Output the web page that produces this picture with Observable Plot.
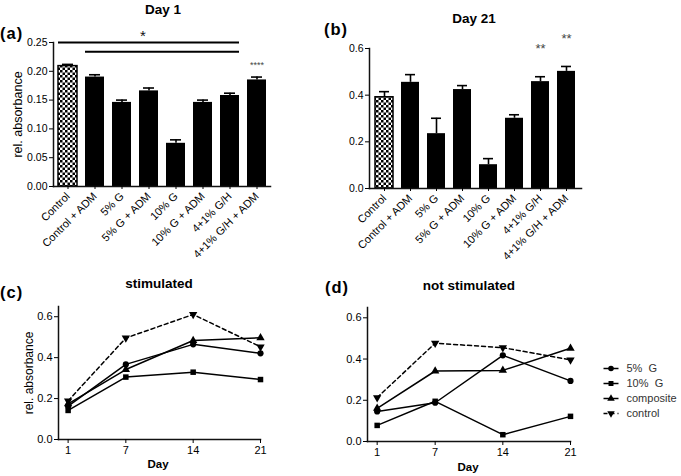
<!DOCTYPE html>
<html><head><meta charset="utf-8">
<script src="https://cdn.jsdelivr.net/npm/d3@7"></script>
<script src="https://cdn.jsdelivr.net/npm/@observablehq/plot@0.6"></script>
<style>
body{margin:0;background:#fff;}
#wrap{position:relative;width:681px;height:476px;font-family:"Liberation Sans",Arial,sans-serif;color:#000;overflow:hidden;background:#fff;}
.abs{position:absolute;white-space:pre;line-height:1;}
.title{font-weight:bold;font-size:13.5px;transform:translate(-50%,-50%);}
.tag{font-weight:bold;font-size:16.5px;letter-spacing:1px;transform:translateY(-50%);}
.xl{font-weight:bold;font-size:11.5px;transform:translate(-50%,-50%);}
</style></head><body><div id="wrap"></div>
<script>
// ---------- data ----------
const categories = ["Control","Control + ADM","5% G","5% G + ADM","10% G","10% G + ADM","4+1% G/H","4+1% G/H + ADM"];
const day1 = [0.209, 0.190, 0.146, 0.166, 0.075, 0.146, 0.158, 0.185];
const day1Err = [0.003, 0.004, 0.004, 0.005, 0.006, 0.004, 0.004, 0.005];
const day21 = [0.391, 0.455, 0.235, 0.424, 0.102, 0.301, 0.458, 0.502];
const day21Err = [0.024, 0.033, 0.066, 0.017, 0.026, 0.015, 0.021, 0.021];
const yTicksA = [0, 0.05, 0.10, 0.15, 0.20, 0.25];
const yTicksB = [0, 0.2, 0.4, 0.6];
const sigLinesA = [
  {from:"Control", to:"4+1% G/H", y:0.25},
  {from:"Control + ADM", to:"4+1% G/H", y:0.234}
];
const sigStarA = [{cat:"5% G + ADM", y:0.25, label:"*"}];
const sigBarA = [{cat:"4+1% G/H + ADM", label:"****"}];
const sigBarB = [{cat:"4+1% G/H", label:"**"}, {cat:"4+1% G/H + ADM", label:"**"}];

const days = [1, 7, 14, 21];
const seriesNames = ["5% G", "10% G", "composite", "control"];
const legendLabels = ["5%\u00a0 G", "10%\u00a0 G", "composite", "control"];
const stim5G   = [0.163, 0.367, 0.465, 0.421];
const stim10G  = [0.142, 0.305, 0.329, 0.293];
const stimComp = [0.174, 0.342, 0.484, 0.497];
const stimCtrl = [0.189, 0.496, 0.611, 0.453];
const not5G    = [0.146, 0.188, 0.418, 0.294];
const not10G   = [0.078, 0.195, 0.033, 0.122];
const notComp  = [0.161, 0.342, 0.345, 0.452];
const notCtrl  = [0.213, 0.477, 0.455, 0.396];
const yTicksLine = [0, 0.2, 0.4, 0.6];

// ---------- helpers ----------
const FONT = '"Liberation Sans",Arial,sans-serif';
const wrap = document.getElementById("wrap");
function place(el, left, top) {
  el.style.position = "absolute"; el.style.left = left + "px"; el.style.top = top + "px";
  wrap.appendChild(el); return el;
}
function label(text, cls, left, top) {
  const d = document.createElement("div"); d.className = "abs " + cls; d.textContent = text;
  d.style.left = left + "px"; d.style.top = top + "px"; wrap.appendChild(d);
}
function addChecker(svg, id) {
  const defs = d3.select(svg).insert("defs", ":first-child");
  const p = defs.append("pattern").attr("id", id).attr("width", 5).attr("height", 5).attr("patternUnits", "userSpaceOnUse");
  p.append("rect").attr("width", 5).attr("height", 5).attr("fill", "#fff");
  p.append("rect").attr("width", 2.5).attr("height", 2.5).attr("fill", "#000");
  p.append("rect").attr("x", 2.5).attr("y", 2.5).attr("width", 2.5).attr("height", 2.5).attr("fill", "#000");
}
const triangleDown = {
  draw(context, size) {
    const s3 = Math.sqrt(3);
    const y = -Math.sqrt(size / (s3 * 3));
    context.moveTo(0, -y * 2);
    context.lineTo(-s3 * y, y);
    context.lineTo(s3 * y, y);
    context.closePath();
  }
};
const symbolOf = {"5% G": "circle", "10% G": "square", "composite": "triangle", "control": triangleDown};
const dashOf = {"control": "4,3"};

function barPanel({values, errs, yDomain, yTicks, fmt, ylabel, patternId, sigLines, sigStars, sigBars, sigBarsDy, sigBarsSize, w, h, ml, mr, mt, mb, fontSize}) {
  const rows = categories.map((c, i) => ({cat: c, v: values[i], e: errs[i]}));
  const byCat = new Map(rows.map(d => [d.cat, d]));
  const marks = [
    Plot.barY(rows.filter(d => d.cat !== "Control"), {x: "cat", y: "v", fill: "#000"}),
    Plot.barY(rows.filter(d => d.cat === "Control"), {x: "cat", y: "v", fill: `url(#${patternId})`, stroke: "#000", strokeWidth: 1.5}),
    Plot.ruleX(rows, {x: "cat", y1: "v", y2: d => d.v + d.e, stroke: "#000", strokeWidth: 1.6}),
    Plot.tickY(rows, {x: "cat", y: d => d.v + d.e, insetLeft: 4, insetRight: 4, stroke: "#000", strokeWidth: 1.6}),
    Plot.frame({anchor: "left", stroke: "#111", strokeWidth: 1.5}),
    Plot.frame({anchor: "bottom", stroke: "#111", strokeWidth: 1.5}),
    Plot.axisY({ticks: yTicks, tickFormat: d3.format(fmt), tickSize: 4, tickPadding: 2, label: null}),
    Plot.axisX({tickRotate: -45, tickSize: 3, tickPadding: 5, label: null, fontSize: "11px"})
  ];
  if (ylabel) marks.push(Plot.axisY({ticks: [], tickSize: 0, label: ylabel, labelAnchor: "center", labelOffset: 40, labelArrow: "none", fontSize: "12.5px"}));
  if (sigLines) marks.push(Plot.ruleY(sigLines, {x1: "from", x2: "to", y: "y", stroke: "#000", strokeWidth: 2}));
  if (sigStars) marks.push(Plot.text(sigStars, {x: "cat", y: "y", text: "label", dy: -6, dx: -6, fontSize: 15, fill: "#111"}));
  if (sigBars) marks.push(Plot.text(sigBars, {x: "cat", y: d => byCat.get(d.cat).v + byCat.get(d.cat).e, text: "label", dy: sigBarsDy, fontSize: sigBarsSize, fill: "#444"}));
  return Plot.plot({
    width: w, height: h, marginLeft: ml, marginRight: mr, marginTop: mt, marginBottom: mb,
    style: {fontFamily: FONT, fontSize: fontSize, color: "#000", background: "transparent", overflow: "visible"},
    x: {domain: categories, paddingInner: 0.3, paddingOuter: 0.15},
    y: {domain: yDomain},
    marks
  });
}

function linePanel({sets, ylabel, w, h, ml, mr, mt, mb}) {
  const rows = [];
  seriesNames.forEach((s, k) => days.forEach((d, i) => rows.push({series: s, day: d, v: sets[k][i]})));
  const marks = [
    Plot.frame({anchor: "left", stroke: "#111", strokeWidth: 1.5}),
    Plot.frame({anchor: "bottom", stroke: "#111", strokeWidth: 1.5})
  ];
  seriesNames.forEach(s => {
    const sub = rows.filter(d => d.series === s);
    marks.push(Plot.line(sub, {x: "day", y: "v", stroke: "#000", strokeWidth: 1.5, strokeDasharray: dashOf[s] || null}));
    marks.push(Plot.dot(sub, {x: "day", y: "v", symbol: symbolOf[s], r: 3.1, fill: "#000", stroke: "none"}));
  });
  marks.push(Plot.axisX({ticks: days, tickSize: 4, tickPadding: 3, label: null, fontSize: "11px"}));
  marks.push(Plot.axisY({ticks: yTicksLine, tickFormat: d3.format(".1f"), tickSize: 4, tickPadding: 2, label: null, fontSize: "11px"}));
  if (ylabel) marks.push(Plot.axisY({ticks: [], tickSize: 0, label: ylabel, labelAnchor: "center", labelOffset: 34, labelArrow: "none", fontSize: "12px"}));
  return Plot.plot({
    width: w, height: h, marginLeft: ml, marginRight: mr, marginTop: mt, marginBottom: mb,
    style: {fontFamily: FONT, fontSize: "11px", color: "#000", background: "transparent", overflow: "visible"},
    x: {domain: [0, 21]},
    y: {domain: [0, 0.65]},
    marks
  });
}

// ---------- panel (a) ----------
const pA = barPanel({values: day1, errs: day1Err, yDomain: [0, 0.25], yTicks: yTicksA, fmt: ".2f",
  ylabel: "rel. absorbance", patternId: "checkA", sigLines: sigLinesA, sigStars: sigStarA,
  sigBars: sigBarA, sigBarsDy: -12, sigBarsSize: 9, w: 330, h: 250, ml: 53, mr: 60, mt: 42, mb: 64, fontSize: "10.5px"});
addChecker(pA, "checkA");
place(pA, 0, 0);

// ---------- panel (b) ----------
const pB = barPanel({values: day21, errs: day21Err, yDomain: [0, 0.6], yTicks: yTicksB, fmt: ".1f",
  ylabel: null, patternId: "checkB", sigBars: sigBarB, sigBarsDy: -28, sigBarsSize: 13,
  w: 330, h: 250, ml: 53, mr: 65, mt: 48, mb: 62, fontSize: "10.5px"});
addChecker(pB, "checkB");
place(pB, 316, 0);

// ---------- panel (c) ----------
const pC = linePanel({sets: [stim5G, stim10G, stimComp, stimCtrl], ylabel: "rel. absorbance",
  w: 320, h: 186, ml: 58, mr: 60, mt: 16, mb: 37});
place(pC, 0, 290);

// ---------- panel (d) ----------
const pD = linePanel({sets: [not5G, not10G, notComp, notCtrl], ylabel: null,
  w: 300, h: 186, ml: 51, mr: 46, mt: 17, mb: 35});
place(pD, 316, 290);

// ---------- legend ----------
const legMarks = [];
seriesNames.forEach((s, k) => {
  const row = [{series: s, lab: legendLabels[k]}];
  legMarks.push(Plot.link(row, {x1: 0, x2: 1, y1: "series", y2: "series", stroke: "#000", strokeWidth: 1.5, strokeDasharray: dashOf[s] || null}));
  legMarks.push(Plot.dot(row, {x: 0.5, y: "series", symbol: symbolOf[s], r: 2.8, fill: "#000", stroke: "none"}));
  legMarks.push(Plot.text(row, {x: 1, y: "series", text: "lab", textAnchor: "start", dx: 8, fill: "#333", fontSize: 11}));
});
const pL = Plot.plot({
  width: 91, height: 70, margin: 0,
  style: {fontFamily: FONT, fontSize: "11px", background: "transparent", overflow: "visible"},
  x: {type: "linear", domain: [0, 1], range: [13, 28], axis: null},
  y: {type: "point", domain: seriesNames, range: [13, 58], padding: 0, axis: null},
  marks: legMarks
});
place(pL, 590, 355);

// ---------- titles and tags ----------
label("Day 1", "title", 163, 10);
label("Day 21", "title", 474, 19);
label("stimulated", "title", 159, 284);
label("not stimulated", "title", 469, 286);
label("(a)", "tag", 0, 33);
label("(b)", "tag", 324, 29);
label("(c)", "tag", 0, 292);
label("(d)", "tag", 325, 287);
label("Day", "xl", 158, 465);
label("Day", "xl", 468, 468);
</script></body></html>
